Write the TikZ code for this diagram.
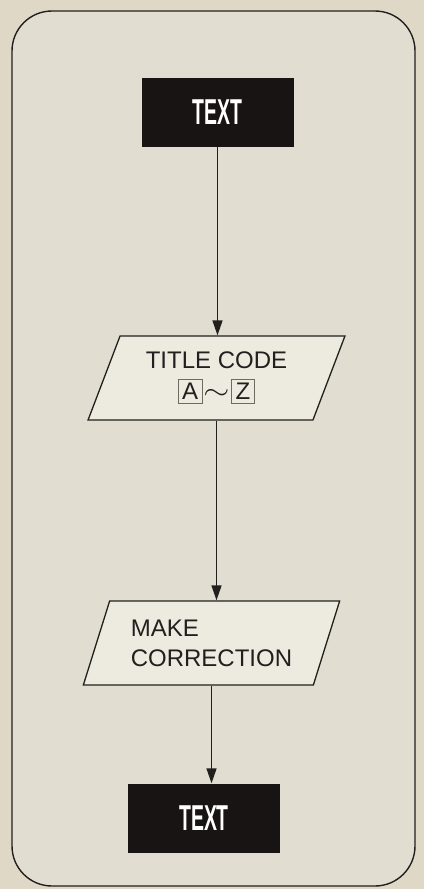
\documentclass[tikz,border=0pt]{standalone}
\usepackage{fontspec}
\usepackage{graphicx}
\setmainfont{Liberation Sans}
\newfontface\condfont[FakeStretch=0.54]{Liberation Sans Bold}
\usetikzlibrary{shapes.geometric,arrows.meta}
\definecolor{paper}{RGB}{224,216,199}
\definecolor{panel}{RGB}{225,221,208}
\definecolor{parafill}{RGB}{237,234,224}
\definecolor{ink}{RGB}{34,32,30}
\definecolor{boxblack}{RGB}{24,20,20}
\definecolor{keyframe}{RGB}{110,106,98}
\newcommand\keybox[1]{{\setlength\fboxsep{1.5pt}\setlength\fboxrule{0.9pt}\fcolorbox{keyframe}{parafill}{\makebox[20pt]{\rule[-2.5pt]{0pt}{21pt}#1}}}}
\tikzset{
  blackbox/.style={rectangle, fill=boxblack, text=white, minimum width=152pt, minimum height=69pt, inner sep=0pt, font=\condfont\fontsize{36}{36}\selectfont},
  para/.style={trapezium, trapezium left angle=66, trapezium right angle=114, trapezium stretches=true, draw=ink, line width=1.3pt, fill=parafill, minimum width=257pt, minimum height=84pt, inner sep=0pt, text=ink, font=\fontsize{24}{30}\selectfont},
  conn/.style={draw=ink, line width=1.4pt, -{Triangle[length=15pt,width=10pt]}},
  frame/.style={draw=ink, line width=1.4pt, fill=panel, rounded corners=40pt}
}
\begin{document}
\begin{tikzpicture}[x=1pt,y=-1pt]
\useasboundingbox[fill=paper] (0,0) rectangle (424,889);
\path[frame] (12,11) rectangle (415,886);
\node[blackbox] (t1) at (217.5,112.5) {TEXT};
\node[para, align=center] (p1) at (216.5,378) {TITLE CODE\\[1pt]\keybox{A}\hspace{1pt}\scalebox{1.35}[1.1]{$\sim$}\hspace{1pt}\keybox{Z}};
\node[para, align=left] (p2) at (211.5,643) {MAKE\\CORRECTION};
\node[blackbox] (t2) at (204,818) {TEXT};
\draw[conn] (t1.south) -- (t1.south |- p1.north);
\draw[conn] (p1.south) -- (p1.south |- p2.north);
\draw[conn] (p2.south) -- (p2.south |- t2.north);
\end{tikzpicture}
\end{document}
